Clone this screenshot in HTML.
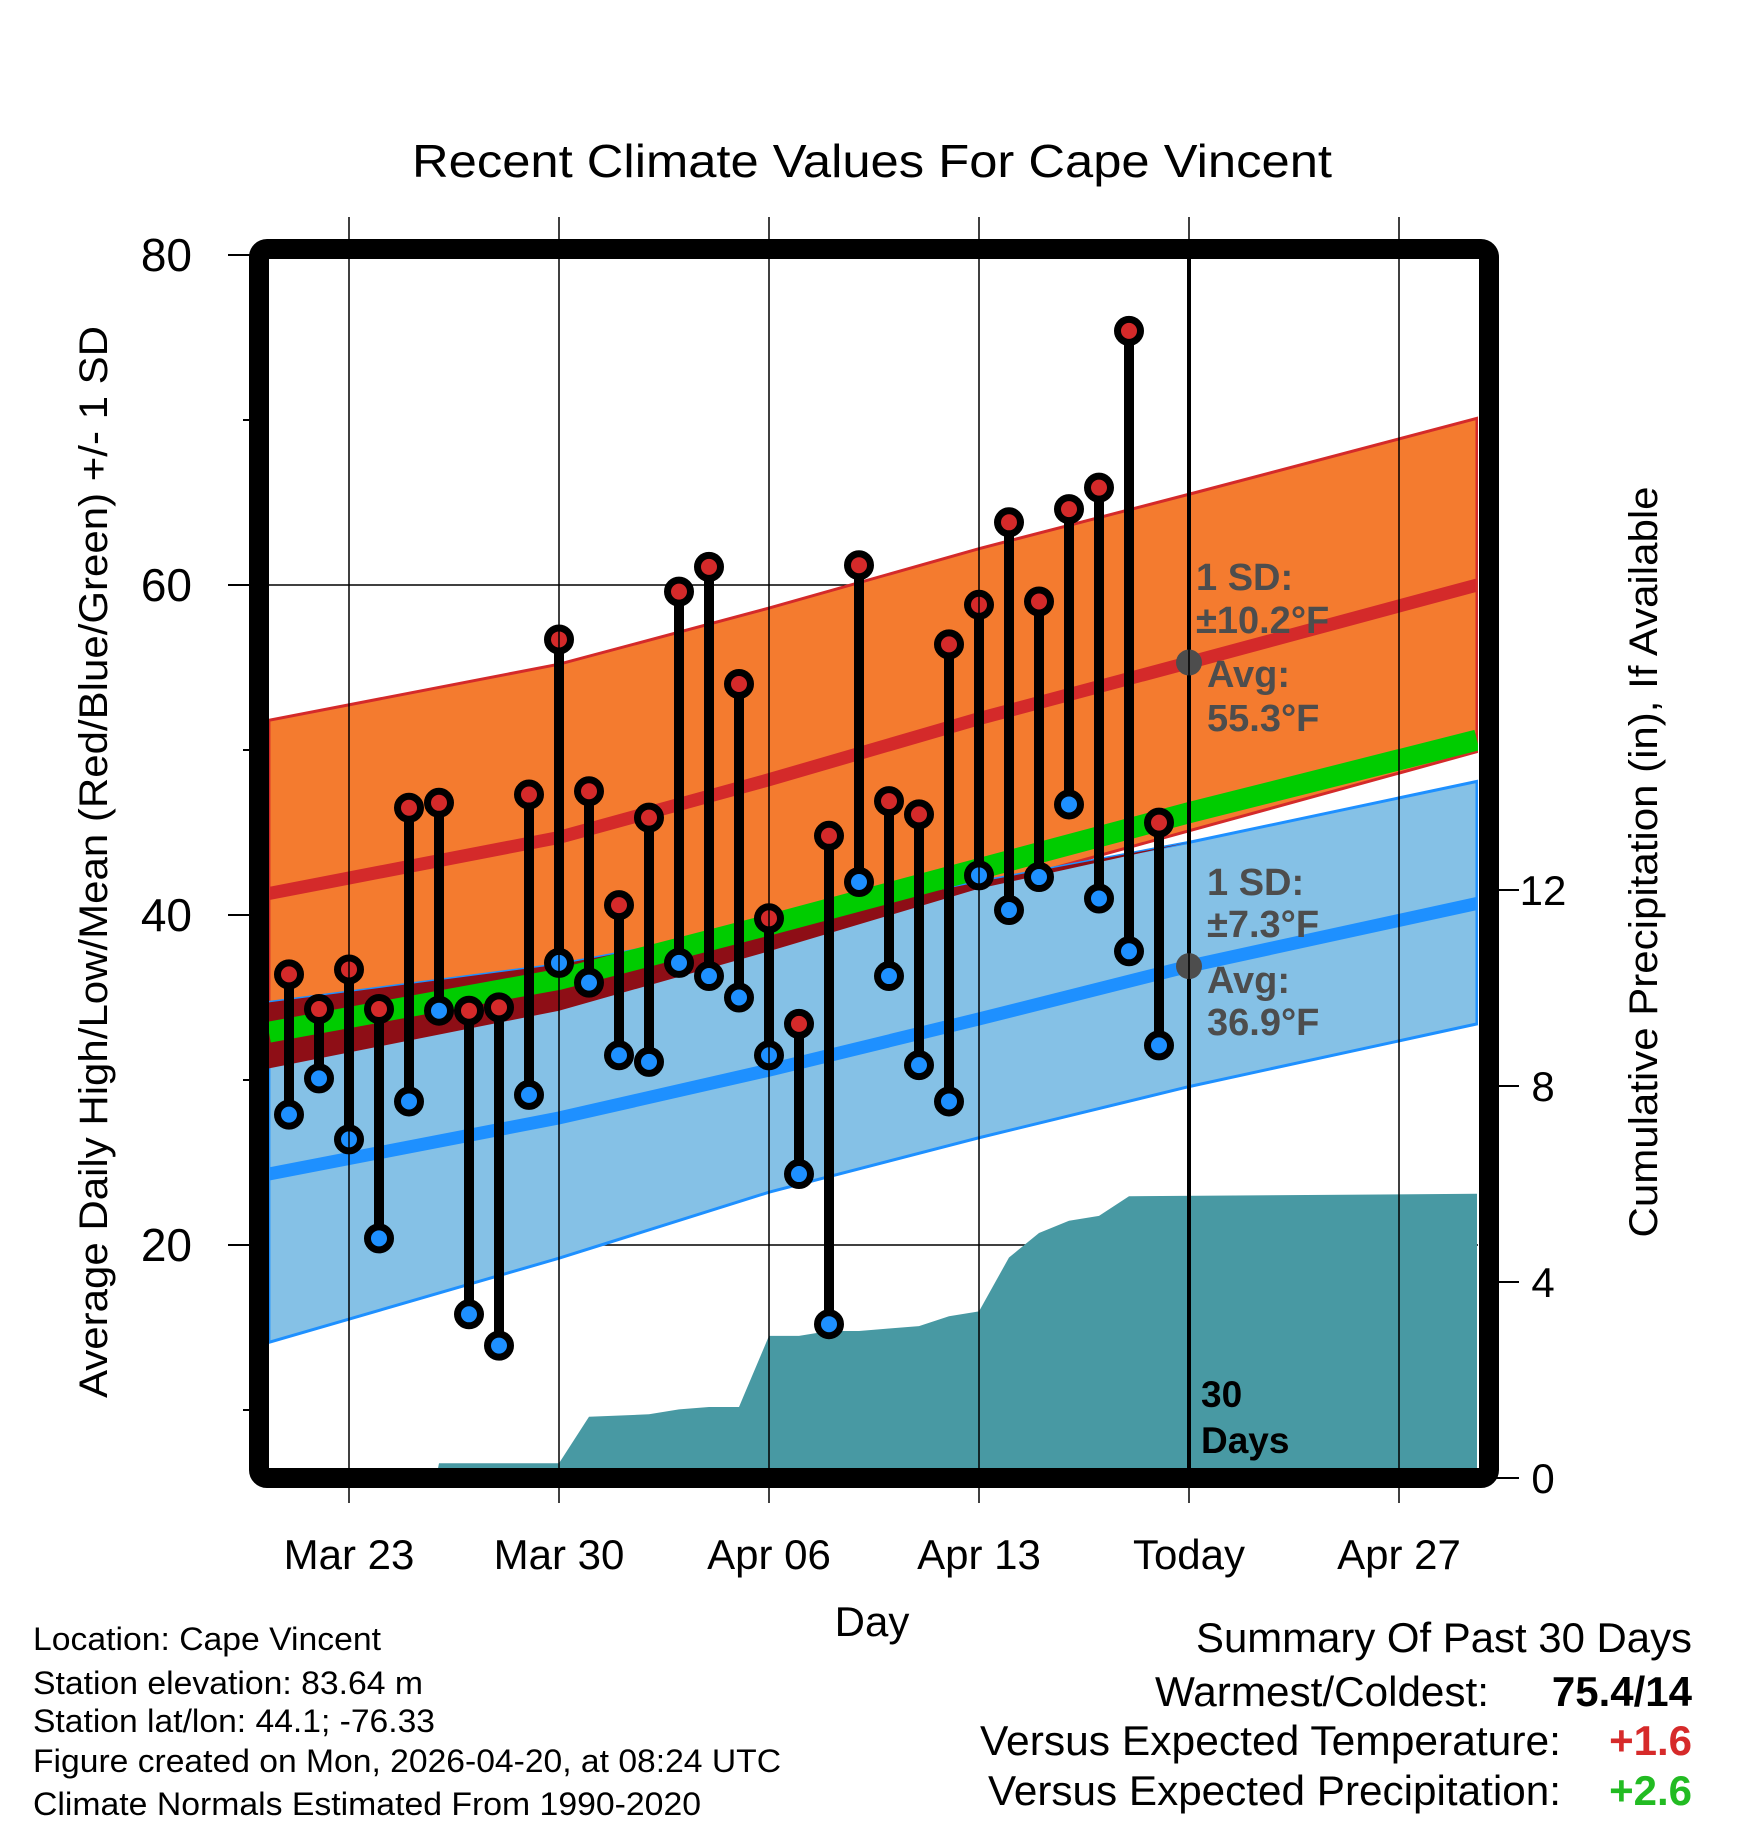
<!DOCTYPE html>
<html><head><meta charset="utf-8"><style>
html,body{margin:0;padding:0;background:#fff}
svg{display:block;font-family:"Liberation Sans",sans-serif}
</style></head><body>
<svg id="chart" width="1748" height="1828" viewBox="0 0 1748 1828" xmlns="http://www.w3.org/2000/svg">
<defs><clipPath id="plotclip"><rect x="269" y="259" width="1209" height="1209"/></clipPath></defs>
<text x="872" y="177" font-size="46" text-anchor="middle" textLength="920" lengthAdjust="spacingAndGlyphs">Recent Climate Values For Cape Vincent</text>
<g id="plot" clip-path="url(#plotclip)"></g>
<g id="axes"></g>
<rect x="259" y="249" width="1230" height="1229" rx="8" fill="none" stroke="#000" stroke-width="20"/>
<text transform="translate(107,862) rotate(-90)" font-size="40" text-anchor="middle" textLength="1072" lengthAdjust="spacingAndGlyphs">Average Daily High/Low/Mean (Red/Blue/Green) +/- 1 SD</text>
<text transform="translate(1657,862) rotate(-90)" font-size="40" text-anchor="middle" textLength="751" lengthAdjust="spacingAndGlyphs">Cumulative Precipitation (in), If Available</text>
<text x="872" y="1636" font-size="42" text-anchor="middle">Day</text>
<g font-size="38" font-weight="bold" fill="#4d4d4d">
<text x="1196" y="590">1 SD:</text><text x="1196" y="633">±10.2°F</text>
<text x="1207" y="687">Avg:</text><text x="1207" y="731">55.3°F</text></g>
<g font-size="38" font-weight="bold" fill="#4d4d4d">
<text x="1207" y="895">1 SD:</text><text x="1207" y="937">±7.3°F</text>
<text x="1207" y="993">Avg:</text><text x="1207" y="1035">36.9°F</text></g>
<g font-size="37" font-weight="bold"><text x="1201" y="1407">30</text><text x="1201" y="1453">Days</text></g>
<g font-size="32">
<text x="33" y="1650" textLength="348" lengthAdjust="spacingAndGlyphs">Location: Cape Vincent</text>
<text x="33" y="1694" textLength="390" lengthAdjust="spacingAndGlyphs">Station elevation: 83.64 m</text>
<text x="33" y="1732" textLength="402" lengthAdjust="spacingAndGlyphs">Station lat/lon: 44.1; -76.33</text>
<text x="33" y="1772" textLength="748" lengthAdjust="spacingAndGlyphs">Figure created on Mon, 2026-04-20, at 08:24 UTC</text>
<text x="33" y="1815" textLength="668" lengthAdjust="spacingAndGlyphs">Climate Normals Estimated From 1990-2020</text></g>
<g font-size="42">
<text x="1692" y="1652" text-anchor="end" textLength="496" lengthAdjust="spacingAndGlyphs">Summary Of Past 30 Days</text>
<text x="1489" y="1706" text-anchor="end" textLength="334" lengthAdjust="spacingAndGlyphs">Warmest/Coldest:</text>
<text x="1692" y="1706" text-anchor="end" font-weight="bold">75.4/14</text>
<text x="1561" y="1755" text-anchor="end" textLength="581" lengthAdjust="spacingAndGlyphs">Versus Expected Temperature:</text>
<text x="1692" y="1755" text-anchor="end" font-weight="bold" fill="#d62a2a">+1.6</text>
<text x="1561" y="1805" text-anchor="end" textLength="573" lengthAdjust="spacingAndGlyphs">Versus Expected Precipitation:</text>
<text x="1692" y="1805" text-anchor="end" font-weight="bold" fill="#22bb22">+2.6</text></g>
</svg>
<script>
// data (days relative to Mar 23)
const obsDays = [-2,-1,0,1,2,3,4,5,6,7,8,9,10,11,12,13,14,15,16,17,18,19,20,21,22,23,24,25,26,27];
const highs = [36.4,34.3,36.7,34.3,46.5,46.8,34.2,34.4,47.3,56.7,47.5,40.6,45.9,59.6,61.1,54.0,39.8,33.4,44.8,61.2,46.9,46.1,56.4,58.8,63.8,59.0,64.6,65.9,75.4,45.6];
const lows = [27.9,30.1,26.4,20.4,28.7,34.2,15.8,13.9,29.1,37.1,35.9,31.5,31.1,37.1,36.3,35.0,31.5,24.3,15.2,42.0,36.3,30.9,28.7,42.4,40.3,42.3,46.7,41.0,37.8,32.1];
const normDays = [-2.67,7,14,21,28,37.6];
const highMean = [41.3,44.7,48.2,51.9,55.3,60.0];
const highUpper = [51.8,55.2,58.6,62.2,65.5,70.1];
const highLower = [30.7,34.2,37.8,41.6,45.1,49.9];
const lowMean = [24.3,27.7,30.6,33.7,36.9,40.7];
const lowUpper = [34.7,37.0,39.4,42.0,44.4,48.1];
const lowLower = [14.1,19.2,23.2,26.5,29.6,33.4];
const avgMean = [32.9,36.1,39.4,42.8,46.2,50.6];
const precipDays = [-2.67,2.9,3,7,8,10,11,12,13,14,15,16,17,18,19,20,21,22,23,24,25,26,37.6];
const precip = [0,0,0.3,0.3,1.25,1.3,1.4,1.45,1.45,2.9,2.9,3.0,3.0,3.05,3.1,3.3,3.4,4.5,5.0,5.25,5.35,5.75,5.8];
const xTickDays = [0,7,14,21,28,35];
const xTickLabels = ["Mar 23","Mar 30","Apr 06","Apr 13","Today","Apr 27"];
const yTicks = [20,40,60,80];
const yMinorTicks = [10,30,50,70];
const pTicks = [0,4,8,12];
const todayDay = 28;
const todayHigh = 55.3, todayLow = 36.9;

const X = d => 349 + d*30;
const Y = t => 255 + (80 - t)*16.5;
const YP = p => 1478 - p*49;
const NS = "http://www.w3.org/2000/svg";
const plot = document.getElementById('plot');
const axes = document.getElementById('axes');
function mk(tag, attrs, parent){const e=document.createElementNS(NS,tag);for(const k in attrs)e.setAttribute(k,attrs[k]);parent.appendChild(e);return e;}
function band(up, lo){let s=normDays.map((d,i)=>X(d)+','+Y(up[i]));let r=normDays.map((d,i)=>X(d)+','+Y(lo[i])).reverse();return s.concat(r).join(' ');}
function line(arr){return normDays.map((d,i)=>X(d)+','+Y(arr[i])).join(' ');}

for(const t of yTicks){const g=mk('line',{x1:269,x2:1478,y1:Y(t),y2:Y(t),stroke:'#000','stroke-width':1.5},plot);

}
for(const d of xTickDays){const g=mk('line',{x1:X(d),x2:X(d),y1:217,y2:1503,stroke:'#000','stroke-width':1.5},axes);

}

let pp=precipDays.map((d,i)=>X(d)+','+YP(precip[i]));
pp.push(X(37.6)+','+YP(0));pp.push(X(-2.67)+','+YP(0));
const pa=mk('polygon',{points:pp.join(' '),fill:'#4899a3'},plot);



const hb=mk('polygon',{points:band(highUpper,highLower),fill:'#f47b2f',stroke:'#d42a2a','stroke-width':3},plot);


const lb=mk('polygon',{points:band(lowUpper,lowLower),fill:'#85c1e6',stroke:'#1e90ff','stroke-width':3},plot);


const ovU=normDays.map((d,i)=>Math.min(highUpper[i],lowUpper[i]));
const ovL=normDays.map((d,i)=>Math.min(Math.max(highLower[i],lowLower[i]),ovU[i]));
const ov=mk('polygon',{points:band(ovU,ovL),fill:'#8e0e16'},plot);


const hm=mk('polyline',{points:line(highMean),fill:'none',stroke:'#d42a2a','stroke-width':13},plot);


const lm=mk('polyline',{points:line(lowMean),fill:'none',stroke:'#1e90ff','stroke-width':13},plot);


const am=mk('polyline',{points:line(avgMean),fill:'none',stroke:'#00cc00','stroke-width':21},plot);



const tl=mk('line',{x1:X(todayDay),x2:X(todayDay),y1:259,y2:1468,stroke:'#000','stroke-width':4},plot);


const th=mk('circle',{cx:X(todayDay),cy:Y(todayHigh),r:13,fill:'#4d4d4d'},plot);


const tlo=mk('circle',{cx:X(todayDay),cy:Y(todayLow),r:13,fill:'#4d4d4d'},plot);



obsDays.forEach((d,i)=>{
 const s=mk('line',{x1:X(d),x2:X(d),y1:Y(highs[i]),y2:Y(lows[i]),stroke:'#000','stroke-width':10},plot);
 
 
 const h=mk('circle',{cx:X(d),cy:Y(highs[i]),r:11.5,fill:'#d42a2a',stroke:'#000','stroke-width':7},plot);
 
 
 const l=mk('circle',{cx:X(d),cy:Y(lows[i]),r:11.5,fill:'#1e90ff',stroke:'#000','stroke-width':7},plot);
 
 
});

for(const t of yTicks){
 const tk=mk('line',{x1:228,x2:259,y1:Y(t),y2:Y(t),stroke:'#000','stroke-width':2},axes);
 
 
 const tx=mk('text',{x:192,y:Y(t)+16,'font-size':46,'text-anchor':'end'},axes);tx.textContent=t;
 
 
}
for(const t of yMinorTicks){
 const tk=mk('line',{x1:243,x2:259,y1:Y(t),y2:Y(t),stroke:'#000','stroke-width':2},axes);
 
 
}
for(const p of pTicks){
 const tk=mk('line',{x1:1489,x2:1519,y1:YP(p),y2:YP(p),stroke:'#000','stroke-width':2},axes);
 
 
 const tx=mk('text',{x:1543,y:YP(p)+15,'font-size':42,'text-anchor':'middle'},axes);tx.textContent=p;
 
 
}
xTickDays.forEach((d,i)=>{
 const tx=mk('text',{x:X(d),y:1569,'font-size':42,'text-anchor':'middle'},axes);tx.textContent=xTickLabels[i];
 
 
});
</script>
</body></html>
